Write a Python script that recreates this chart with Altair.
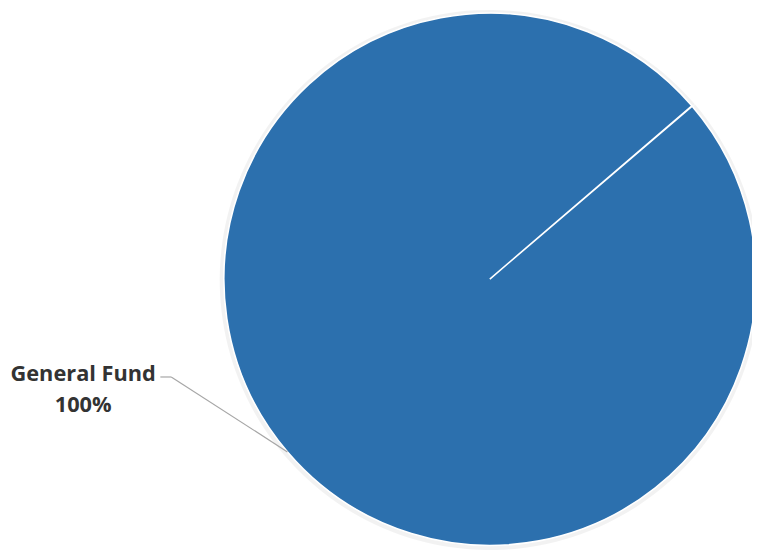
import math
import altair as alt
import pandas as pd

# ---- data ----
categories = ["General Fund"]
values = [100]
pct_labels = ["100%"]

# ---- geometry / style ----
W, H = 752, 549
CX, CY, R = 487, 271, 269
START = math.radians(49.5)
GAP = 0.002
BLUE = "#2C70AE"

df = pd.DataFrame({"category": categories, "value": values,
                   "label": [f"{c}\n{p}" for c, p in zip(categories, pct_labels)]})

base = alt.Chart(df)

shadow = base.mark_arc(color="#000000", opacity=0.05, radius=R + 4).encode(
    theta=alt.Theta("value:Q", stack=True,
                    scale=alt.Scale(range=[START, START + 2 * math.pi - GAP])),
    x=alt.value(CX), y=alt.value(CY + 1),
)

pie = base.mark_arc(stroke="white", strokeWidth=1.6, radius=R).encode(
    theta=alt.Theta("value:Q", stack=True,
                    scale=alt.Scale(range=[START, START + 2 * math.pi - GAP])),
    color=alt.Color("category:N", scale=alt.Scale(range=[BLUE]), legend=None),
    x=alt.value(CX), y=alt.value(CY),
)

# leader line from the middle of the slice to the label
mid = START + math.pi
px = CX + R * math.sin(mid)
py = CY - R * math.cos(mid)
ELX, ELY = 165, 370
ENDX = 154

leader1 = base.mark_rule(color="#A6A6A6", strokeWidth=1.2).encode(
    x=alt.value(px), y=alt.value(py), x2=alt.value(ELX), y2=alt.value(ELY))
leader2 = base.mark_rule(color="#A6A6A6", strokeWidth=1.2).encode(
    x=alt.value(ELX), y=alt.value(ELY), x2=alt.value(ENDX), y2=alt.value(ELY))

label = base.mark_text(font="Open Sans", fontWeight="bold", fontSize=22,
                       color="#333333", lineBreak="\n", lineHeight=31,
                       align="center", baseline="middle").encode(
    text="label:N", x=alt.value(76), y=alt.value(367))

chart = alt.layer(shadow, pie, leader1, leader2, label).properties(
    width=W, height=H, padding=0, autosize=alt.AutoSizeParams(type="none"),
    background="white",
).configure_view(stroke=None)

chart.save("out.html", embed_options={"renderer": "svg", "actions": False})
